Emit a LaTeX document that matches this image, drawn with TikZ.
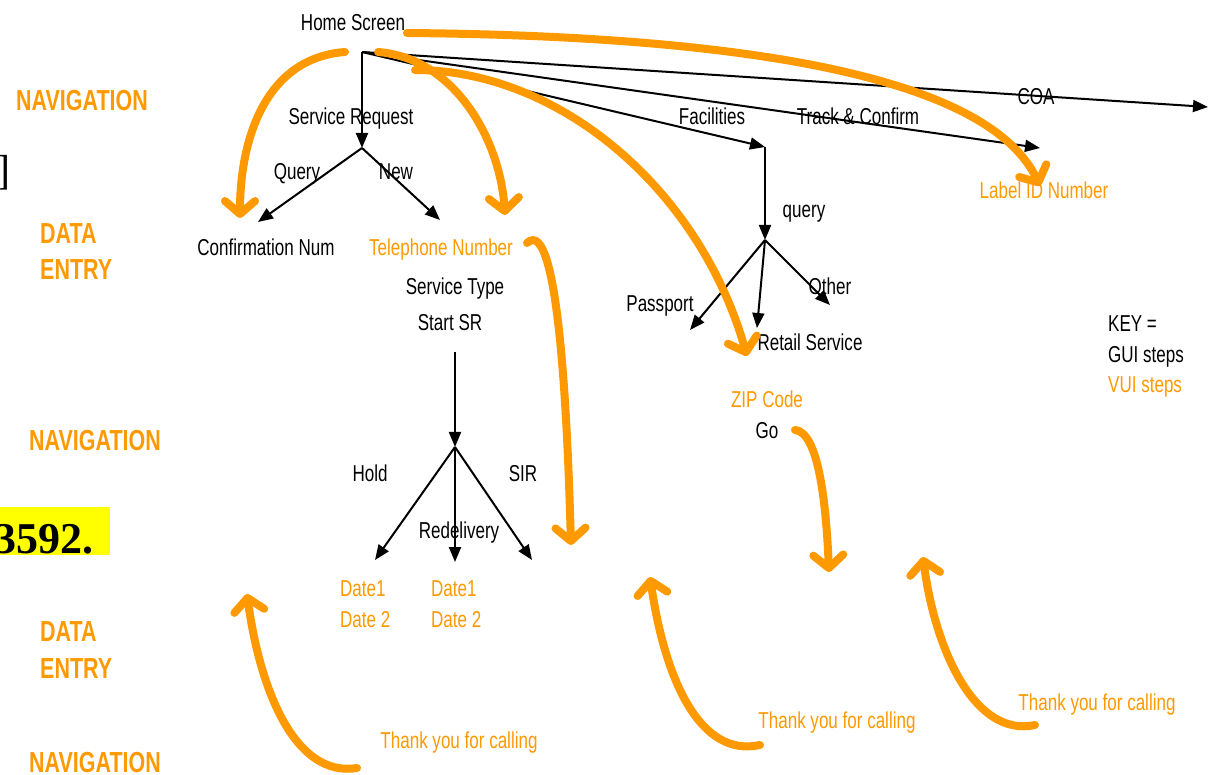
\documentclass[tikz,border=0pt]{standalone}
\usepackage{fontspec}
\newfontfamily\narrowfont[FakeStretch=0.74]{Liberation Sans}
\newfontfamily\docfont{Liberation Serif}
\usepackage{tikz}
\usetikzlibrary{arrows.meta}
\definecolor{vuiorange}{HTML}{FF9900}
\definecolor{hiyellow}{HTML}{FFFF00}

\begin{document}
\begin{tikzpicture}[x=1pt,y=-1pt,
    lbl/.style={inner sep=0pt,anchor=base,font=\narrowfont\fontsize{23}{27}\selectfont},
    vui/.style={lbl,text=vuiorange},
    phase/.style={inner sep=0pt,anchor=base,text=vuiorange,
      font=\narrowfont\bfseries\fontsize{29}{36}\selectfont},
    gui/.style={line width=2pt,-{Triangle[length=15pt,width=12pt]}},
    vuiarrow/.style={vuiorange,line width=8pt,line cap=round,
      -{Straight Barb[length=13pt,width=30pt,line width=8pt,round]}}]

  \useasboundingbox (0,0) rectangle (1219,775);

  % --- phase labels (left) ---
  \node[phase] (nav1) at (82,111) {NAVIGATION};
  \node[phase,anchor=base west] (de1a) at (40,244) {DATA};
  \node[phase,anchor=base west] (de1b) at (40,280) {ENTRY};
  \node[phase] (nav2) at (95,451) {NAVIGATION};
  \node[phase,anchor=base west] (de2a) at (40,641) {DATA};
  \node[phase,anchor=base west] (de2b) at (40,678) {ENTRY};
  \node[phase] (nav3) at (95,772) {NAVIGATION};

  % --- clipped bits of the page ---
  \node[inner sep=0pt,anchor=base west,font=\docfont\fontsize{42}{46}\selectfont]
    (brk) at (-4,185) {]};
  \fill[hiyellow] (0,507) rectangle (110,555);
  \node[inner sep=0pt,anchor=base west,font=\docfont\bfseries\fontsize{44}{48}\selectfont]
    (num) at (-6,554) {3592.};

  % --- GUI tree ---
  \node[lbl] (home) at (353,31) {Home Screen};
  \coordinate (hroot) at (362,52);
  \coordinate (sr) at (362,148);
  \coordinate (fac) at (765,147);
  \coordinate (tc) at (1040,148);
  \coordinate (coa) at (1208,107);
  \draw[gui] (hroot) -- (sr);
  \draw[gui] (hroot) -- (fac);
  \draw[gui] (hroot) -- (tc);
  \draw[gui] (hroot) -- (coa);
  \node[lbl] (srl) at (351,125) {Service Request};
  \node[lbl] (facl) at (712,125) {Facilities};
  \node[lbl] (tcl) at (858,125) {Track \& Confirm};
  \node[lbl] (coal) at (1036,105) {COA};

  % service request branch
  \coordinate (conftip) at (258,222);
  \coordinate (teltip) at (440,220);
  \draw[gui] (sr) -- (conftip);
  \draw[gui] (sr) -- (teltip);
  \node[lbl] (query) at (297,180) {Query};
  \node[lbl] (new) at (396,180) {New};
  \node[lbl] (conf) at (266,256) {Confirmation Num};
  \node[vui] (tel) at (441,256) {Telephone Number};
  \node[lbl] (stype) at (455,295) {Service Type};
  \node[lbl] (start) at (450,331) {Start SR};

  \coordinate (sstart) at (455,352);
  \coordinate (split) at (455,447);
  \draw[gui] (sstart) -- (split);
  \coordinate (holdtip) at (375,560);
  \coordinate (redtip) at (455,562);
  \coordinate (sirtip) at (532,560);
  \draw[gui] (split) -- (holdtip);
  \draw[gui] (split) -- (redtip);
  \draw[gui] (split) -- (sirtip);
  \node[lbl] (hold) at (370,482) {Hold};
  \node[lbl] (sir) at (523,482) {SIR};
  \node[lbl] (redel) at (459,539) {Redelivery};
  \node[vui,anchor=base west] (d1a) at (340,596) {Date1};
  \node[vui,anchor=base west] (d1b) at (340,627) {Date 2};
  \node[vui,anchor=base west] (d2a) at (431,596) {Date1};
  \node[vui,anchor=base west] (d2b) at (431,627) {Date 2};

  % facilities branch
  \coordinate (fsplit) at (765,240);
  \coordinate (passtip) at (690,330);
  \coordinate (rettip) at (757,328);
  \coordinate (othtip) at (830,305);
  \draw[gui] (fac) -- (fsplit);
  \draw[gui] (fsplit) -- (passtip);
  \draw[gui] (fsplit) -- (rettip);
  \draw[gui] (fsplit) -- (othtip);
  \node[lbl] (fquery) at (804,218) {query};
  \node[lbl] (pass) at (660,312) {Passport};
  \node[lbl] (other) at (830,295) {Other};
  \node[lbl] (retail) at (810,351) {Retail Service};
  \node[vui] (zip) at (767,408) {ZIP Code};
  \node[lbl] (go) at (767,439) {Go};

  \node[vui] (label) at (1044,199) {Label ID Number};

  % --- key ---
  \node[lbl,anchor=base west] (key) at (1108,332) {KEY =};
  \node[lbl,anchor=base west] (keygui) at (1108,363) {GUI steps};
  \node[vui,anchor=base west] (keyvui) at (1108,393) {VUI steps};

  % --- VUI steps ---
  \node[vui] (bye1) at (459,748) {Thank you for calling};
  \node[vui] (bye2) at (837,728) {Thank you for calling};
  \node[vui] (bye3) at (1097,710) {Thank you for calling};

  \draw[vuiarrow] (345,52) .. controls (265,58) and (240,140) .. (240,218);
  \draw[vuiarrow] (378,52) .. controls (455,58) and (500,140) .. (505,215);
  \draw[vuiarrow] (407,33) .. controls (760,36) and (990,80) .. (1040,186);
  \draw[vuiarrow] (415,70) .. controls (560,70) and (700,190) .. (747,356);
  \draw[vuiarrow] (527,243) .. controls (560,212) and (568,440) .. (571,545);
  \draw[vuiarrow] (795,430) .. controls (818,432) and (826,500) .. (829,572);
  \draw[vuiarrow] (357,768) .. controls (295,778) and (260,690) .. (247,594);
  \draw[vuiarrow] (760,745) .. controls (700,758) and (665,680) .. (650,577);
  \draw[vuiarrow] (1035,725) .. controls (975,738) and (935,650) .. (923,557);

\end{tikzpicture}
\end{document}
